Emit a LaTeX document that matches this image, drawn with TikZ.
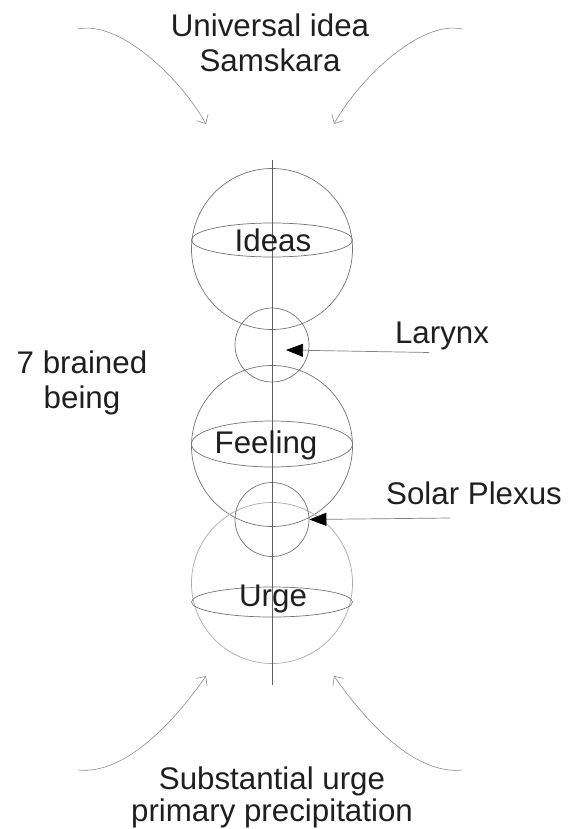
\documentclass[tikz,border=0pt]{standalone}
\usepackage{fontspec}
\setmainfont{Liberation Sans}
\usetikzlibrary{arrows.meta}
\begin{document}
\begin{tikzpicture}[x=1pt,y=-1pt,
  lbl/.style={font=\fontsize{31.3}{36}\selectfont, inner sep=0pt, anchor=base, text=black!88},
  sph/.style={circle, draw=black!55, line width=0.7pt, inner sep=0pt, minimum size=161pt},
  lightsph/.style={sph, draw=black!33},
  small/.style={circle, draw=black!55, line width=0.7pt, inner sep=0pt, minimum size=74pt},
  equator/.style={draw=black!55, line width=0.7pt},
  axisline/.style={draw=black!62, line width=0.8pt},
  curv/.style={draw=black!45, line width=0.6pt, -{Straight Barb[length=7pt,width=13pt]}},
  pointer/.style={draw=black!50, line width=0.7pt, -{Triangle[length=17pt,width=13pt,color=black]}}
]
\useasboundingbox (0,0) rectangle (577,829);

% spheres
\node[sph] (ideas) at (272,249) {};
\node[small] (larynx) at (272,345) {};
\node[sph] (feeling) at (272,446) {};
\node[lightsph] (urge) at (272,583) {};
\node[small] (solar) at (272,519.5) {};

% equators
\draw[equator] (272,240) ellipse [x radius=80.5pt, y radius=17pt];
\draw[equator] (272,444) ellipse [x radius=80.5pt, y radius=23pt];
\draw[equator] (272,602) ellipse [x radius=80.5pt, y radius=15pt];

% axis
\coordinate (axtop) at (272,160);
\coordinate (axbot) at (272,685);
\draw[axisline] (axtop) -- (axbot);

% labels in spheres
\node[lbl] (tideas) at (273,251.5) {Ideas};
\node[lbl] (tfeeling) at (266,453.5) {Feeling};
\node[lbl] (turge) at (273,606.5) {Urge};

% side labels
\node[lbl] (tlarynx) at (442,343) {Larynx};
\node[lbl] (tsolar) at (474,504) {Solar Plexus};
\node[lbl] (tbrain1) at (82,373) {7 brained};
\node[lbl] (tbrain2) at (82,408) {being};

% pointers
\coordinate (larynxtail) at (429,352.5);
\coordinate (larynxtip) at (286,350);
\draw[pointer] (larynxtail) -- (larynxtip);
\coordinate (solartail) at (450,518);
\draw[pointer] (solartail) -- (solar.east);

% top text
\node[lbl] (tuni1) at (270,36.7) {Universal idea};
\node[lbl] (tuni2) at (270,71.7) {Samskara};

% bottom text
\node[lbl] (tsub1) at (272,789) {Substantial urge};
\node[lbl] (tsub2) at (272,821.5) {primary precipitation};

% curved arrows
\coordinate (tl0) at (78,29);
\coordinate (tl1) at (206,124);
\coordinate (tr0) at (462,29);
\coordinate (tr1) at (334,124);
\draw[curv] (tl0) .. controls (120,20) and (181,79) .. (tl1);
\draw[curv] (tr0) .. controls (420,20) and (359,79) .. (tr1);

\coordinate (bl0) at (78,770);
\coordinate (bl1) at (206,676);
\coordinate (br0) at (462,770);
\coordinate (br1) at (334,676);
\draw[curv] (bl0) .. controls (125,775) and (174,722) .. (bl1);
\draw[curv] (br0) .. controls (415,775) and (366,722) .. (br1);
\end{tikzpicture}
\end{document}
